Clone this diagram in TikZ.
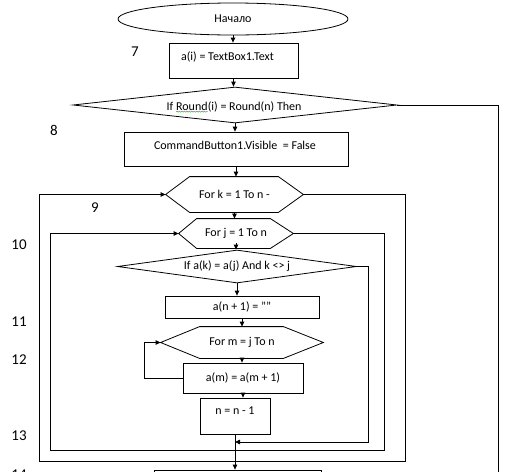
\documentclass[tikz,border=0pt]{standalone}
\usepackage{fontspec}
\setmainfont{Carlito}
\usetikzlibrary{shapes.geometric,arrows.meta,decorations.pathmorphing,calc}
\newcommand\sqword[1]{\tikz[baseline=(w.base)]{\node[shape=rectangle, draw=none, inner sep=0pt, outer sep=0pt, minimum width=0pt, minimum height=0pt](w){#1};\draw[green!65!black, line width=0.4pt, decorate, decoration={snake,amplitude=0.6pt,segment length=2.5pt}] ([yshift=-1.2pt]w.south west) -- ([yshift=-1.2pt]w.south east);}}
\newcommand\hexshape[3]{\draw (#1.west) -- ([xshift=#2pt]#1.north west) -- ([xshift=-#3pt]#1.north east) -- (#1.east) -- ([xshift=-#3pt]#1.south east) -- ([xshift=#2pt]#1.south west) -- cycle;}
\begin{document}
\begin{tikzpicture}[x=1pt,y=-1pt,
  line width=0.8pt,
  txt/.style={font=\fontsize{12}{14}\selectfont, inner sep=0pt},
  num/.style={font=\fontsize{15}{18}\selectfont, inner sep=0pt},
  boxnode/.style={draw, rectangle, inner sep=0pt, txt},
  hexnode/.style={rectangle, inner sep=0pt, txt},
  dia/.style={draw, diamond, inner sep=0pt, txt},
  arr/.style={-{Triangle[length=5pt,width=4.5pt]}}]
\useasboundingbox (0,0) rectangle (507,472);
\fill[white] (0,0) rectangle (507,472);
\clip (0,0) rectangle (507,472);

% nodes
\node[draw, ellipse, minimum width=230pt, minimum height=32pt, inner sep=0pt, txt] (start) at (233,19) {Начало};
\node[boxnode, minimum width=129pt, minimum height=35pt] (b7) at (233.5,60.5) {};
\node[txt] (t7) at (227.5,57) {a(i) = TextBox1.Text};
\node[dia, aspect=9, minimum width=324pt, minimum height=36pt] (d1) at (235,105) {};
\node[txt] (t1) at (234,107) {If \sqword{Round}(i) = Round(n) Then};
\node[boxnode, minimum width=224pt, minimum height=34pt] (b8) at (236,149) {};
\node[txt] (t8) at (235,145) {CommandButton1.Visible \ = False};
\node[hexnode, minimum width=137pt, minimum height=35pt] (hk) at (234.5,194.5) {For k = 1 To n -};
\hexshape{hk}{24}{25}
\node[hexnode, minimum width=114pt, minimum height=29pt] (hj) at (236,233.5) {For j = 1 To n};
\hexshape{hj}{18}{23}
\node[dia, aspect=7, minimum width=239pt, minimum height=33pt] (d2) at (237,266.5) {If a(k) = a(j) And k <> j};
\node[boxnode, minimum width=154pt, minimum height=22pt] (ba) at (242,307) {a(n + 1) = ""};
\node[hexnode, minimum width=162pt, minimum height=31pt] (hm) at (242,342.5) {For m = j To n};
\hexshape{hm}{39}{40}
\node[boxnode, minimum width=120pt, minimum height=30pt] (bm) at (243,378) {a(m) = a(m + 1)};
\node[boxnode, minimum width=70pt, minimum height=36pt] (bn) at (235,416) {};
\node[txt] (tn) at (235,411) {n = n - 1};
\node[boxnode, minimum width=167pt, minimum height=30pt] (b14) at (237.5,485) {};

% labels
\node[num] (n7) at (135,52) {7};
\node[num] (n8) at (54,130) {8};
\node[num] (n9) at (95,208) {9};
\node[num] (n10) at (19,245) {10};
\node[num] (n11) at (19,322) {11};
\node[num] (n12) at (19,360) {12};
\node[num] (n13) at (19,436) {13};
\node[num] (n14) at (19,475) {14};

% connectors
\draw[arr] (start.south) -- (start.south |- b7.north);
\draw[arr] (b7.south) -- (b7.south |- d1.north);
\draw[arr] (d1.south) -- (d1.south |- b8.north);
\draw[arr] (b8.south) -- (b8.south |- hk.north);
\draw[arr] (hk.south) -- (hk.south |- hj.north);
\draw[arr] ([yshift=5pt]hj.south) -- (hj.south |- d2.north);
\draw[arr] (d2.south) -- (d2.south |- ba.north);
\draw[arr] (ba.south) -- (ba.south |- hm.north);
\draw[arr] (hm.south) -- (hm.south |- bm.north);
\draw[arr] (bm.south) -- (bm.south |- bn.north);
\draw[arr] (bn.south) -- (bn.south |- b14.north);

\coordinate (rr) at (498,490);
\draw (d1.east) -| (rr);

\coordinate (kr) at (405,461);
\coordinate (kl) at (39,461);
\draw[arr] (hk.east) -| (kr) -- (kl) |- (hk.west);

\coordinate (jr) at (384,450);
\coordinate (jl) at (50,450);
\draw[arr] (hj.east) -| (jr) -- (jl) |- (hj.west);

\coordinate (dr) at (368,442);
\draw[arr] (d2.east) -| (dr) -- (dr -| bn.south);

\coordinate (ml) at (144,378);
\draw[arr] (bm.west) -- (ml) |- (hm.west);
\end{tikzpicture}
\end{document}
